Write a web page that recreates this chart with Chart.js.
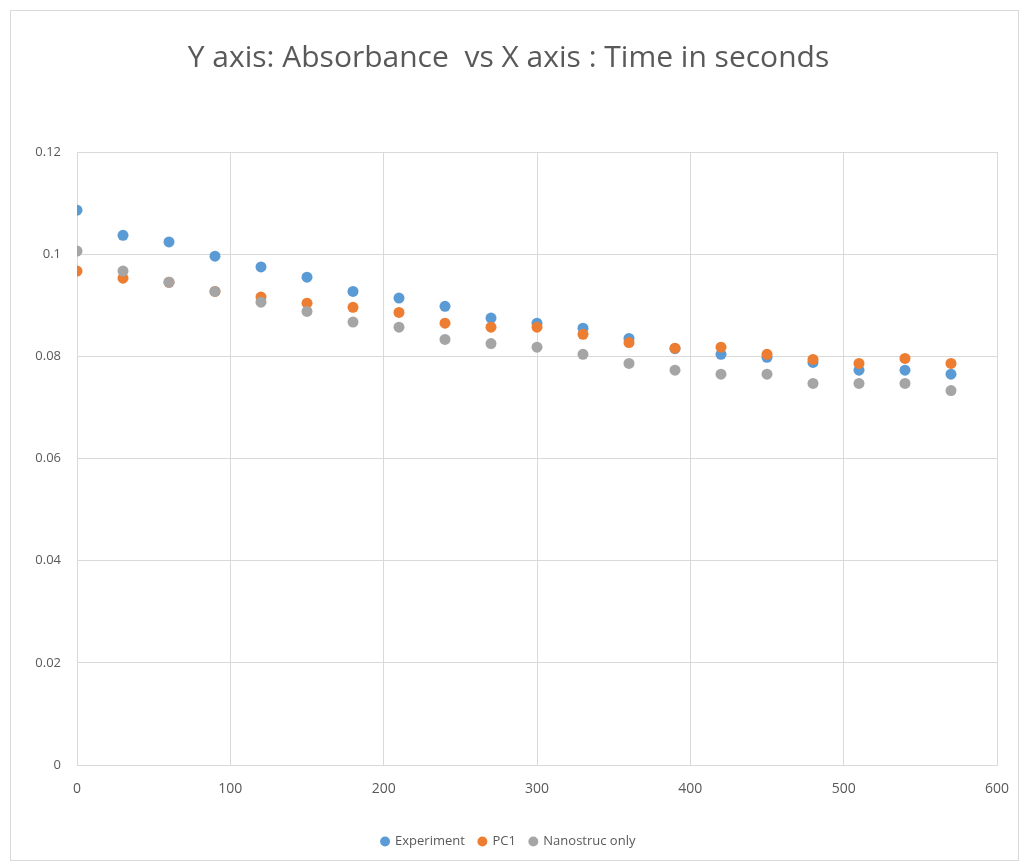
<!DOCTYPE html>
<html>
<head>
<meta charset="utf-8">
<script src="https://cdn.jsdelivr.net/npm/chart.js@4"></script>
<style>
  html, body { margin: 0; padding: 0; background: #fff; }
  canvas { display: block; }
</style>
</head>
<body>
<canvas id="chart" width="1029" height="868"></canvas>
<script>
// time in seconds
const times = [0, 30, 60, 90, 120, 150, 180, 210, 240, 270, 300, 330, 360, 390, 420, 450, 480, 510, 540, 570];

// absorbance
const experiment = [0.1086, 0.1037, 0.1024, 0.0996, 0.0975, 0.0955, 0.0927, 0.0914, 0.0898, 0.0875,
                    0.0865, 0.0855, 0.0835, 0.0815, 0.0804, 0.0798, 0.0788, 0.0773, 0.0773, 0.0765];
const pc1 = [0.0967, 0.0953, 0.0945, 0.0927, 0.0916, 0.0904, 0.0896, 0.0886, 0.0865, 0.0857,
             0.0857, 0.0843, 0.0827, 0.0816, 0.0818, 0.0804, 0.0794, 0.0786, 0.0796, 0.0786];
const nanostruc = [0.1006, 0.0967, 0.0945, 0.0927, 0.0906, 0.0888, 0.0867, 0.0857, 0.0833, 0.0825,
                   0.0818, 0.0804, 0.0786, 0.0773, 0.0765, 0.0765, 0.0747, 0.0747, 0.0747, 0.0733];

const xTicks = [0, 100, 200, 300, 400, 500, 600];
const yTicks = [0, 0.02, 0.04, 0.06, 0.08, 0.1, 0.12];

const seriesNames = ['Experiment', 'PC1', 'Nanostruc only'];
const seriesColors = ['#5B9BD5', '#ED7D31', '#A5A5A5'];

function toPoints(values) {
  return times.map((t, i) => ({ x: t, y: values[i] }));
}

const textColor = '#595959';
const gridColor = '#D9D9D9';
const fontFamily = '"Open Sans", "Noto Sans", sans-serif';

// light frame round the whole chart, like the spreadsheet export
const framePlugin = {
  id: 'frame',
  beforeDraw(chart) {
    const ctx = chart.ctx;
    ctx.save();
    ctx.fillStyle = '#fff';
    ctx.fillRect(0, 0, chart.width, chart.height);
    ctx.strokeStyle = '#D9D9D9';
    ctx.lineWidth = 1;
    ctx.strokeRect(10.5, 10.5, 1008, 850);
    ctx.restore();
  }
};

const ctx = document.getElementById('chart').getContext('2d');
new Chart(ctx, {
  type: 'scatter',
  data: {
    datasets: [experiment, pc1, nanostruc].map((vals, i) => ({
      label: seriesNames[i],
      data: toPoints(vals),
      backgroundColor: seriesColors[i],
      borderColor: seriesColors[i],
      pointRadius: 5.5,
      pointHoverRadius: 5.5,
      borderWidth: 0,
      order: 3 - i // later series drawn on top, as in Excel
    }))
  },
  options: {
    responsive: false,
    animation: false,
    layout: { padding: { left: 20, right: 32, top: 40, bottom: 10 } },
    scales: {
      x: {
        type: 'linear',
        min: 0,
        max: 600,
        afterBuildTicks(axis) { axis.ticks = xTicks.map(v => ({ value: v })); },
        afterFit(axis) { axis.height = 56; },
        grid: { color: gridColor, drawTicks: false, lineWidth: 1 },
        border: { color: gridColor },
        ticks: { color: textColor, font: { family: fontFamily, size: 14 }, padding: 16 }
      },
      y: {
        min: 0,
        max: 0.12,
        afterBuildTicks(axis) { axis.ticks = yTicks.map(v => ({ value: v })); },
        afterFit(axis) { axis.width = 57; },
        grid: { color: gridColor, drawTicks: false, lineWidth: 1 },
        border: { display: false },
        ticks: {
          color: textColor,
          font: { family: fontFamily, size: 13 },
          padding: 16,
          callback: v => String(Math.round(v * 100) / 100)
        }
      }
    },
    plugins: {
      title: {
        display: true,
        text: 'Y axis: Absorbance  vs X axis : Time in seconds',
        color: textColor,
        font: { family: fontFamily, size: 30, weight: 'normal' },
        padding: { top: 0, bottom: 76 }
      },
      legend: {
        position: 'bottom',
        labels: {
          color: textColor,
          font: { family: fontFamily, size: 13 },
          usePointStyle: true,
          pointStyle: 'circle',
          boxWidth: 7,
          boxHeight: 7,
          padding: 14,
          sort: (a, b) => a.datasetIndex - b.datasetIndex
        }
      },
      tooltip: { enabled: false }
    }
  },
  plugins: [framePlugin]
});
</script>
</body>
</html>
